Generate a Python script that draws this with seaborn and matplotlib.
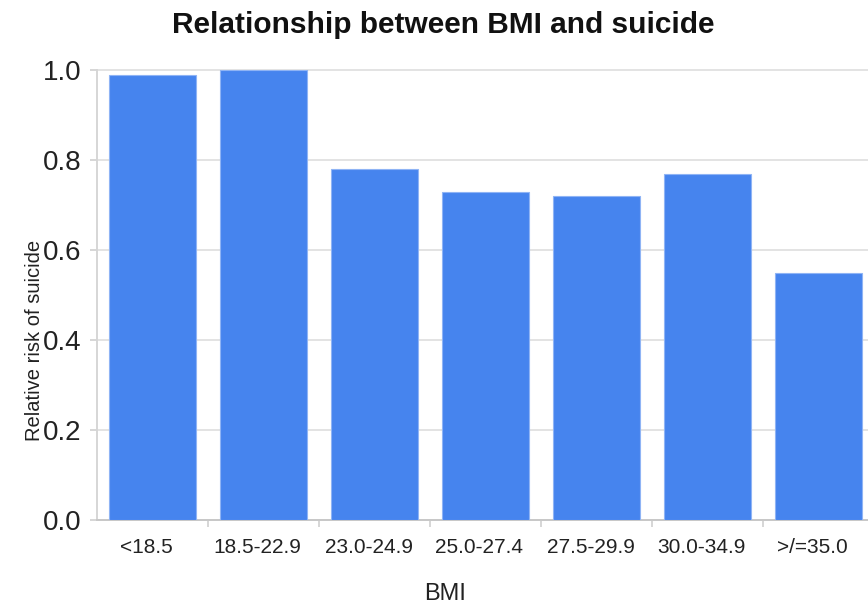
import matplotlib
matplotlib.use("Agg")
import matplotlib.pyplot as plt
import matplotlib.transforms as mtransforms
import seaborn as sns
import pandas as pd

# BMI groups and relative risk of suicide
bmi_groups = ["<18.5", "18.5-22.9", "23.0-24.9", "25.0-27.4", "27.5-29.9", "30.0-34.9", ">/=35.0"]
relative_risk = [0.99, 1.00, 0.78, 0.73, 0.72, 0.77, 0.55]
y_ticks = [0.0, 0.2, 0.4, 0.6, 0.8, 1.0]

df = pd.DataFrame({"BMI": bmi_groups, "risk": relative_risk})

sns.set_theme(style="white")
plt.rcParams["font.family"] = ["Liberation Sans", "DejaVu Sans"]

W, H = 868, 606
fig = plt.figure(figsize=(W / 100, H / 100), dpi=100)
left_px, bottom_px, top_px, step_px = 97, 86, 536, 111
ax_w = 7 * step_px
ax = fig.add_axes([left_px / W, bottom_px / H, ax_w / W, (top_px - bottom_px) / H])

bar_color = "#4684ee"
sns.barplot(data=df, x="BMI", y="risk", color=bar_color, width=0.775,
            edgecolor="#8fb4f5", linewidth=0.8, saturation=1, ax=ax, zorder=3)

ax.set_xlim(-0.5, 6.5)
ax.set_ylim(0, 1.0)
ax.set_yticks(y_ticks)
ax.set_yticklabels([f"{t:.1f}" for t in y_ticks])

# gridlines
ax.yaxis.grid(True, color="#e3e3e3", linewidth=1.4, zorder=0)
for gl in ax.get_ygridlines():
    gl.set_clip_on(False)
ax.xaxis.grid(False)

for side in ["top", "right"]:
    ax.spines[side].set_visible(False)
ax.spines["left"].set_color("#d6d6d6")
ax.spines["left"].set_linewidth(1.4)
ax.spines["bottom"].set_color("#c8c8c8")
ax.spines["bottom"].set_linewidth(1.4)
ax.spines["left"].set_zorder(1)

# y ticks
ax.tick_params(axis="y", which="major", left=True, length=5, width=1.2, color="#d0d0d0",
               labelsize=20, labelcolor="#222222", pad=6)
# x ticks: labels centred under bars, tick marks at group boundaries
ax.tick_params(axis="x", which="major", bottom=False, length=0, labelsize=15,
               labelcolor="#222222", pad=13)
ax.set_xticks([i + 0.5 for i in range(len(bmi_groups))], minor=True)
ax.tick_params(axis="x", which="minor", bottom=True, length=5, width=1.2, color="#d0d0d0")
shift = mtransforms.ScaledTranslation(-6 / 100, 0, fig.dpi_scale_trans)
for lbl in ax.get_xticklabels():
    lbl.set_transform(lbl.get_transform() + shift)

ax.set_xlabel("BMI", fontsize=17, color="#222222")
ax.xaxis.label.set_va("center")
ax.xaxis.set_label_coords((445 - left_px) / ax_w, (520 - 594) / 450)
ax.set_ylabel("Relative risk of suicide", fontsize=14.5, color="#222222")
ax.yaxis.set_label_coords((44 - left_px) / ax_w, 0.40)

fig.text(443 / W, 1 - 25 / H, "Relationship between BMI and suicide", ha="center", va="center",
         fontsize=21.5, fontweight="bold", color="#111111")

fig.savefig("out.png", dpi=100)
